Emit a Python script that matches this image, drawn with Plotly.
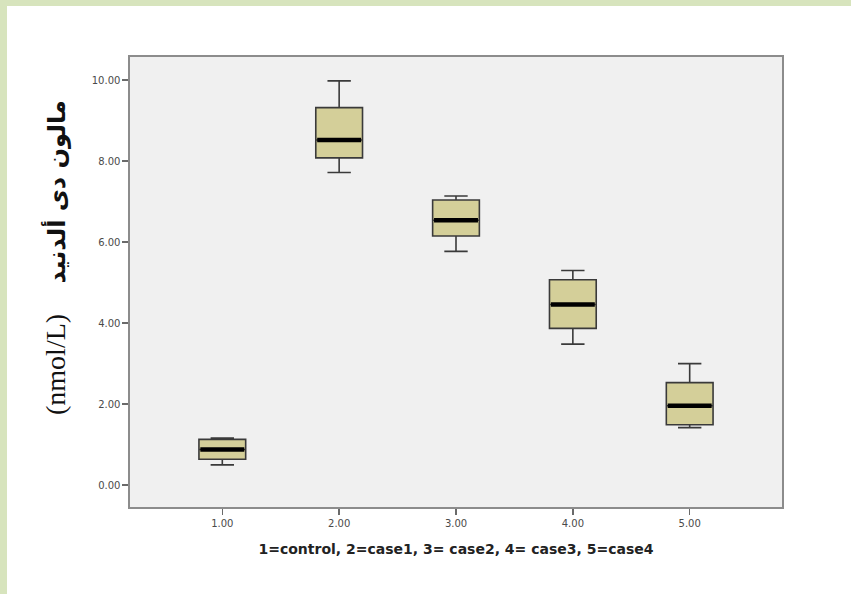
import plotly.graph_objects as go

# ---- data ----
groups = [1, 2, 3, 4, 5]
lower_whisker = [0.50, 7.72, 5.77, 3.48, 1.42]
q1_values = [0.64, 8.08, 6.15, 3.87, 1.49]
median_values = [0.88, 8.52, 6.54, 4.46, 1.96]
q3_values = [1.13, 9.32, 7.04, 5.07, 2.53]
upper_whisker = [1.16, 9.98, 7.14, 5.30, 3.00]
y_ticks = [0, 2, 4, 6, 8, 10]
x_title = "1=control, 2=case1, 3= case2, 4= case3, 5=case4"
y_title_ar = "مالون دى ألدنيد"
y_title_unit = "(nmol/L)"

# ---- layout constants ----
W, H = 851, 594
L, R, T, B = 130, 69, 57, 87
PW, PH = W - L - R, H - T - B
BOX_W = 0.40
FILL = "#d4cf99"
EDGE = "#3a3a3a"

fig = go.Figure()

fig.add_trace(go.Box(
    x=groups,
    q1=q1_values,
    median=median_values,
    q3=q3_values,
    lowerfence=lower_whisker,
    upperfence=upper_whisker,
    width=BOX_W,
    whiskerwidth=0.5,
    fillcolor=FILL,
    line=dict(color=EDGE, width=1.6),
    boxpoints=False,
    showlegend=False,
    hoverinfo="skip",
))

# thick median bars
mx, my = [], []
for g, m in zip(groups, median_values):
    mx += [g - BOX_W / 2 + 0.012, g + BOX_W / 2 - 0.012, None]
    my += [m, m, None]
fig.add_trace(go.Scatter(
    x=mx, y=my, mode="lines",
    line=dict(color="#000000", width=4.5),
    showlegend=False, hoverinfo="skip",
))

# green frame strips of the page (paper coordinates extended beyond plot)
def px_to_paper_x(px):
    return (px - L) / PW

def py_to_paper_y(py):
    return (H - B - py) / PH

green = "#d7e4bd"
fig.add_shape(type="rect", xref="paper", yref="paper",
              x0=px_to_paper_x(0), x1=px_to_paper_x(W),
              y0=py_to_paper_y(6), y1=py_to_paper_y(0),
              fillcolor=green, line=dict(width=0), layer="below")
fig.add_shape(type="rect", xref="paper", yref="paper",
              x0=px_to_paper_x(0), x1=px_to_paper_x(7),
              y0=py_to_paper_y(H), y1=py_to_paper_y(0),
              fillcolor=green, line=dict(width=0), layer="below")

# y-axis title (mixed fonts)
fig.add_annotation(
    xref="paper", yref="paper",
    x=px_to_paper_x(55), y=py_to_paper_y(258),
    text=("<span style='font-family:Liberation Serif;font-size:28px'>" + y_title_unit + "</span>"
          "    <b>" + y_title_ar + "</b>"),
    textangle=-90, showarrow=False,
    font=dict(family="DejaVu Sans", size=24, color="#111111"),
    xanchor="center", yanchor="middle",
)

axis_common = dict(
    showline=True, mirror=True, linecolor="#8c8c8c", linewidth=1.6,
    showgrid=False, zeroline=False,
    ticks="outside", ticklen=6, tickwidth=1.4, tickcolor="#6a6a6a",
    tickfont=dict(family="DejaVu Sans", size=10, color="#4a4a4a"),
)

fig.update_layout(
    width=W, height=H,
    margin=dict(l=L, r=R, t=T, b=B),
    paper_bgcolor="#ffffff",
    plot_bgcolor="#f0f0f0",
    xaxis=dict(
        range=[0.21, 5.79],
        tickvals=groups,
        ticktext=[f"{g:.2f}" for g in groups],
        title=dict(text="<b>" + x_title + "</b>",
                   font=dict(family="DejaVu Sans", size=14, color="#222222"),
                   standoff=16),
        **axis_common,
    ),
    yaxis=dict(
        range=[-0.54, 10.57],
        tickvals=y_ticks,
        tickformat=".2f",
        **axis_common,
    ),
)

fig.write_html("out.html",
               config={"displayModeBar": False, "staticPlot": True},
               post_script="document.body.style.margin='0';document.body.style.overflow='hidden';")
